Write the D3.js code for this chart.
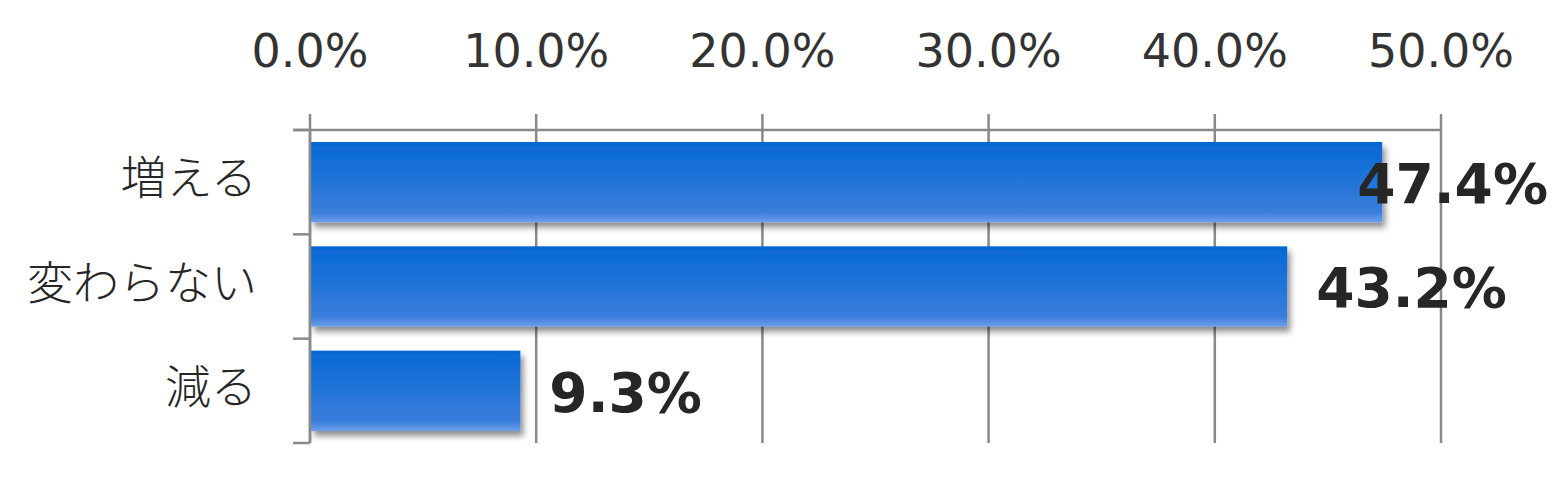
<!DOCTYPE html>
<html><head><meta charset="utf-8">
<script src="https://cdn.jsdelivr.net/npm/d3@7"></script>
<style>html,body{margin:0;padding:0;background:#fff;}svg{display:block;}</style>
</head><body>
<script>
const categories = ["増える", "変わらない", "減る"];
const values = [47.4, 43.2, 9.3];
const tickValues = [0, 10, 20, 30, 40, 50];
const tickLabels = ["0.0%", "10.0%", "20.0%", "30.0%", "40.0%", "50.0%"];
const valueLabels = ["47.4%", "43.2%", "9.3%"];

const W = 1566, H = 494;
const svg = d3.select("body").append("svg").attr("width", W).attr("height", H);
const defs = svg.append("defs");
const grad = defs.append("linearGradient").attr("id", "bg").attr("x1", 0).attr("y1", 0).attr("x2", 0).attr("y2", 1);
grad.append("stop").attr("offset", "0%").attr("stop-color", "#0467d3");
grad.append("stop").attr("offset", "88%").attr("stop-color", "#3a7edc");
grad.append("stop").attr("offset", "100%").attr("stop-color", "#6e9fe8");
const f = defs.append("filter").attr("id", "sh").attr("x", "-5%").attr("y", "-20%").attr("width", "115%").attr("height", "150%");
f.append("feDropShadow").attr("dx", 3).attr("dy", 5).attr("stdDeviation", 3).attr("flood-color", "#000").attr("flood-opacity", 0.45);

const x = d3.scaleLinear().domain([0, 50]).range([310, 1441]);
const y = d3.scaleBand().domain(categories).range([130, 443]).paddingInner(0.23).paddingOuter(0.115);

const gridColor = "#898989";
svg.append("g").selectAll("line").data(tickValues).join("line")
  .attr("x1", d => x(d)).attr("x2", d => x(d)).attr("y1", 114).attr("y2", 443)
  .attr("stroke", gridColor).attr("stroke-width", 2.5);
svg.append("line").attr("x1", 293).attr("x2", x(50)).attr("y1", 130).attr("y2", 130)
  .attr("stroke", gridColor).attr("stroke-width", 2.5);
const bounds = [130, 443].concat(categories.slice(1).map(c => y(c) - y.step() * y.paddingInner() / 2));
svg.append("g").selectAll("line").data(bounds).join("line")
  .attr("x1", 293).attr("x2", 310).attr("y1", d => d).attr("y2", d => d)
  .attr("stroke", gridColor).attr("stroke-width", 2.5);

svg.append("g").selectAll("text").data(tickValues).join("text")
  .attr("x", d => x(d)).attr("y", 67).attr("text-anchor", "middle")
  .attr("font-family", "DejaVu Sans, Verdana, sans-serif").attr("font-size", 46).attr("fill", "#333")
  .text((d, i) => tickLabels[i]);

svg.append("g").selectAll("rect").data(values).join("rect")
  .attr("x", x(0) + 1).attr("y", (d, i) => y(categories[i]))
  .attr("width", d => x(d) - x(0) - 1).attr("height", y.bandwidth())
  .attr("fill", "url(#bg)").attr("filter", "url(#sh)");

svg.append("line").attr("x1", 310).attr("x2", 310).attr("y1", 130).attr("y2", 443)
  .attr("stroke", gridColor).attr("stroke-width", 2.5);

svg.append("g").selectAll("text").data(categories).join("text")
  .attr("x", 257).attr("y", d => y(d) + y.bandwidth() / 2 - 4).attr("dy", "0.35em")
  .attr("text-anchor", "end")
  .attr("font-family", "Noto Sans CJK JP, sans-serif").attr("font-size", 46).attr("font-weight", 300).attr("fill", "#262626")
  .text(d => d);

const vl = svg.append("g").selectAll("text").data(values).join("text")
  .attr("y", (d, i) => y(categories[i]) + y.bandwidth() / 2 + 1).attr("dy", "0.36em")
  .attr("font-family", "DejaVu Sans, Verdana, sans-serif").attr("font-weight", "bold").attr("font-size", 55).attr("fill", "#262626")
  .text((d, i) => valueLabels[i]);
vl.each(function(d) {
  const w = this.getComputedTextLength();
  const xs = Math.min(x(d) + 29, 1548 - w);
  d3.select(this).attr("x", xs);
});
</script>
</body></html>
